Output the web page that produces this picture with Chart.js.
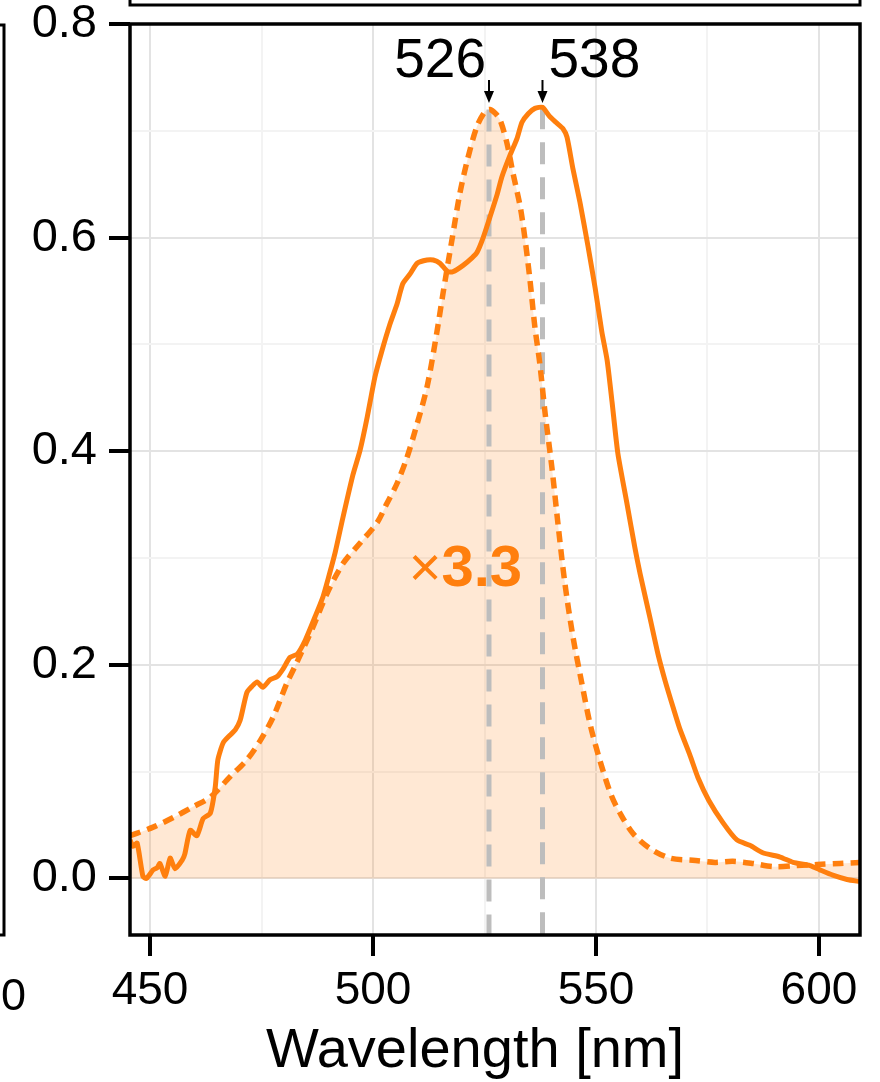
<!DOCTYPE html>
<html>
<head>
<meta charset="utf-8">
<script src="https://cdn.jsdelivr.net/npm/chart.js@4.4.1/dist/chart.umd.min.js"></script>
<style>
  html, body { margin: 0; padding: 0; background: #fff; }
</style>
</head>
<body>
<canvas id="spectrumChart" width="880" height="1082"></canvas>
<script>
// Solid spectrum
const solidWavelengths = [445.5, 446.2, 447.1, 448.4, 449.2, 450.7, 451.6, 452.2, 453.4, 454.5, 455.6, 457.2, 457.8, 459.0, 460.5, 461.9, 463.5, 464.6, 465.2, 466.4, 467.9, 469.1, 470.2, 471.7, 472.9, 474.0, 475.3, 476.9, 478.5, 479.8, 481.4, 483.0, 484.8, 487.0, 488.8, 489.9, 491.5, 493.2, 495.5, 497.1, 498.7, 500.4, 502.0, 503.8, 505.4, 506.1, 506.7, 508.3, 509.9, 512.1, 513.5, 515.0, 516.8, 517.9, 520.2, 522.2, 523.3, 524.7, 526.2, 527.8, 528.9, 530.7, 532.3, 533.4, 534.8, 536.3, 538.0, 539.5, 541.0, 542.6, 543.5, 544.8, 546.4, 548.2, 549.8, 551.3, 552.5, 553.6, 554.9, 556.9, 558.7, 559.9, 562.1, 563.9, 565.5, 567.3, 568.8, 571.1, 572.9, 575.3, 578.5, 581.6, 584.5, 587.4, 591.3, 594.2, 598.0, 600.2, 603.1, 606.3, 609.2];
const solidIntensity = [0.036, 0.030, 0.033, 0.002, 0.000, 0.008, 0.010, 0.014, 0.002, 0.019, 0.009, 0.017, 0.023, 0.045, 0.040, 0.056, 0.061, 0.085, 0.111, 0.127, 0.134, 0.139, 0.148, 0.174, 0.180, 0.184, 0.179, 0.186, 0.189, 0.196, 0.207, 0.210, 0.223, 0.245, 0.264, 0.280, 0.305, 0.337, 0.378, 0.401, 0.432, 0.469, 0.494, 0.519, 0.538, 0.549, 0.557, 0.566, 0.576, 0.579, 0.579, 0.576, 0.568, 0.568, 0.574, 0.581, 0.586, 0.600, 0.619, 0.640, 0.657, 0.677, 0.693, 0.708, 0.716, 0.721, 0.722, 0.714, 0.708, 0.702, 0.694, 0.665, 0.633, 0.592, 0.553, 0.512, 0.485, 0.446, 0.398, 0.352, 0.310, 0.285, 0.244, 0.210, 0.185, 0.160, 0.140, 0.115, 0.094, 0.073, 0.052, 0.036, 0.031, 0.024, 0.020, 0.015, 0.012, 0.008, 0.003, -0.001, -0.003];

// Dotted spectrum (scaled x3.3), filled
const dottedWavelengths = [445.5, 450.7, 455.2, 459.6, 463.5, 467.9, 471.7, 474.7, 477.6, 480.7, 483.0, 486.5, 489.7, 493.3, 497.1, 500.9, 503.1, 505.4, 507.6, 509.5, 512.1, 514.3, 515.7, 517.7, 519.5, 521.3, 523.3, 525.1, 526.2, 527.5, 528.5, 530.0, 531.4, 533.0, 534.1, 535.2, 536.3, 537.4, 538.6, 540.1, 541.5, 543.0, 544.8, 546.9, 548.7, 550.9, 553.4, 555.4, 558.3, 562.1, 566.6, 571.7, 576.7, 580.7, 585.2, 589.7, 595.1, 599.6, 604.7, 609.2];
const dottedIntensity = [0.040, 0.048, 0.057, 0.067, 0.076, 0.095, 0.111, 0.129, 0.151, 0.183, 0.203, 0.235, 0.267, 0.295, 0.314, 0.333, 0.351, 0.370, 0.394, 0.420, 0.460, 0.511, 0.548, 0.598, 0.642, 0.675, 0.704, 0.718, 0.720, 0.716, 0.710, 0.689, 0.660, 0.629, 0.598, 0.560, 0.516, 0.482, 0.435, 0.385, 0.331, 0.277, 0.227, 0.181, 0.144, 0.110, 0.078, 0.061, 0.042, 0.028, 0.019, 0.017, 0.015, 0.016, 0.014, 0.011, 0.012, 0.013, 0.014, 0.015];

// Peak markers
const peakPositions = [526, 538];
const peakHeights = [0.720, 0.722];

// Axes
const xRange = [445.5, 609.2];
const yRange = [-0.053, 0.8];
const xMajorTicks = [450, 500, 550, 600];
const xMinorTicks = [475, 525, 575];
const yMajorTicks = [0.0, 0.2, 0.4, 0.6, 0.8];
const yMinorTicks = [0.1, 0.3, 0.5, 0.7];

const ORANGE = '#ff7f0e';
const FONT = "'Liberation Sans', Arial, Helvetica, sans-serif";

function toPoints(xs, ys) {
  return xs.map((x, i) => ({ x: x, y: ys[i] }));
}

function isMajor(list, v) {
  return list.some((m) => Math.abs(m - v) < 1e-6);
}

function gridOptions(majors) {
  return {
    color: (ctx) => (ctx.tick && isMajor(majors, ctx.tick.value) ? '#e3e3e3' : '#f3f3f3'),
    lineWidth: 2,
    tickColor: (ctx) => (ctx.tick && isMajor(majors, ctx.tick.value) ? '#000' : 'rgba(0,0,0,0)'),
    tickLength: 21,
    tickWidth: 4,
  };
}

// frame, arrows, labels and the bits of neighbouring panels
const decorPlugin = {
  id: 'decor',
  afterDraw(chart) {
    const { ctx, chartArea, scales } = chart;
    const xs = scales.x, ys = scales.y;
    ctx.save();

    // neighbouring panels (cut off)
    ctx.strokeStyle = '#000';
    ctx.lineWidth = 3;
    ctx.strokeRect(130, -20, 730, 25);
    ctx.strokeRect(-100, 25, 104, 910);
    ctx.fillStyle = '#000';
    ctx.font = '45px ' + FONT;
    ctx.textAlign = 'right';
    ctx.textBaseline = 'alphabetic';
    ctx.fillText('600', 26, 1010);

    // frame of this panel
    ctx.lineWidth = 3.5;
    ctx.strokeRect(chartArea.left, chartArea.top, chartArea.right - chartArea.left, chartArea.bottom - chartArea.top);

    // arrows + peak labels
    ctx.font = '55px ' + FONT;
    peakPositions.forEach((p, i) => {
      const px = xs.getPixelForValue(p);
      const yTop = 80, yTip = 103;
      ctx.lineWidth = 2;
      ctx.beginPath();
      ctx.moveTo(px, yTop);
      ctx.lineTo(px, yTip - 6);
      ctx.stroke();
      ctx.beginPath();
      ctx.moveTo(px, yTip);
      ctx.lineTo(px - 5, yTip - 12);
      ctx.lineTo(px + 5, yTip - 12);
      ctx.closePath();
      ctx.fill();
      ctx.textAlign = i === 0 ? 'right' : 'left';
      ctx.fillText(String(p), i === 0 ? px - 3 : px + 6, 77);
    });

    // x3.3 label
    ctx.fillStyle = ORANGE;
    ctx.textAlign = 'left';
    let tx = xs.getPixelForValue(508.0);
    const ty = ys.getPixelForValue(0.274);
    ctx.font = '56px ' + FONT;
    ctx.fillText('\u00d7', tx, ty);
    tx += ctx.measureText('\u00d7').width;
    ctx.font = 'bold 58px ' + FONT;
    ctx.fillText('3.3', tx, ty);

    // axis title
    ctx.fillStyle = '#000';
    ctx.textAlign = 'center';
    ctx.font = '56px ' + FONT;
    ctx.fillText('Wavelength [nm]', 475, 1067);

    ctx.restore();
  },
};

const ctx = document.getElementById('spectrumChart').getContext('2d');
new Chart(ctx, {
  type: 'line',
  data: {
    datasets: [
      {
        // filled area under the dotted curve
        data: toPoints(dottedWavelengths, dottedIntensity),
        borderWidth: 0,
        borderColor: 'rgba(0,0,0,0)',
        backgroundColor: 'rgba(255, 127, 14, 0.18)',
        fill: 'origin',
        pointRadius: 0,
        tension: 0.3,
        order: 4,
      },
      ...peakPositions.map((p, i) => ({
        data: [{ x: p, y: peakHeights[i] }, { x: p, y: yRange[0] }],
        borderColor: '#bdbdbd',
        borderWidth: 5,
        borderDash: [22, 13],
        pointRadius: 0,
        fill: false,
        order: 3,
      })),
      {
        data: toPoints(dottedWavelengths, dottedIntensity),
        borderColor: ORANGE,
        borderWidth: 5.5,
        borderDash: [11, 7],
        pointRadius: 0,
        fill: false,
        tension: 0.3,
        order: 2,
      },
      {
        data: toPoints(solidWavelengths, solidIntensity),
        borderColor: ORANGE,
        borderWidth: 5,
        pointRadius: 0,
        fill: false,
        tension: 0.2,
        order: 1,
      },
    ],
  },
  options: {
    responsive: false,
    animation: false,
    layout: { padding: { top: 24, right: 20, left: 0, bottom: 0 } },
    plugins: {
      legend: { display: false },
      tooltip: { enabled: false },
    },
    scales: {
      x: {
        type: 'linear',
        min: xRange[0],
        max: xRange[1],
        afterBuildTicks: (scale) => {
          scale.ticks = xMajorTicks.concat(xMinorTicks).sort((a, b) => a - b).map((v) => ({ value: v }));
        },
        afterFit: (scale) => {
          scale.height = 147;
          scale.paddingLeft = 0;
          scale.paddingRight = 0;
        },
        grid: gridOptions(xMajorTicks),
        border: { display: false },
        ticks: {
          color: '#000',
          padding: 12,
          maxRotation: 0,
          autoSkip: false,
          font: { family: FONT, size: 46, lineHeight: 1 },
          callback: (v) => (isMajor(xMajorTicks, v) ? String(v) : ''),
        },
      },
      y: {
        type: 'linear',
        min: yRange[0],
        max: yRange[1],
        afterBuildTicks: (scale) => {
          scale.ticks = yMajorTicks.concat(yMinorTicks).sort((a, b) => a - b).map((v) => ({ value: v }));
        },
        afterFit: (scale) => {
          scale.width = 130;
          scale.paddingTop = 0;
          scale.paddingBottom = 0;
        },
        grid: gridOptions(yMajorTicks),
        border: { display: false },
        ticks: {
          color: '#000',
          padding: 12,
          autoSkip: false,
          font: { family: FONT, size: 47, lineHeight: 1 },
          callback: (v) => (isMajor(yMajorTicks, v) ? v.toFixed(1) : ''),
        },
      },
    },
  },
  plugins: [decorPlugin],
});
</script>
</body>
</html>
